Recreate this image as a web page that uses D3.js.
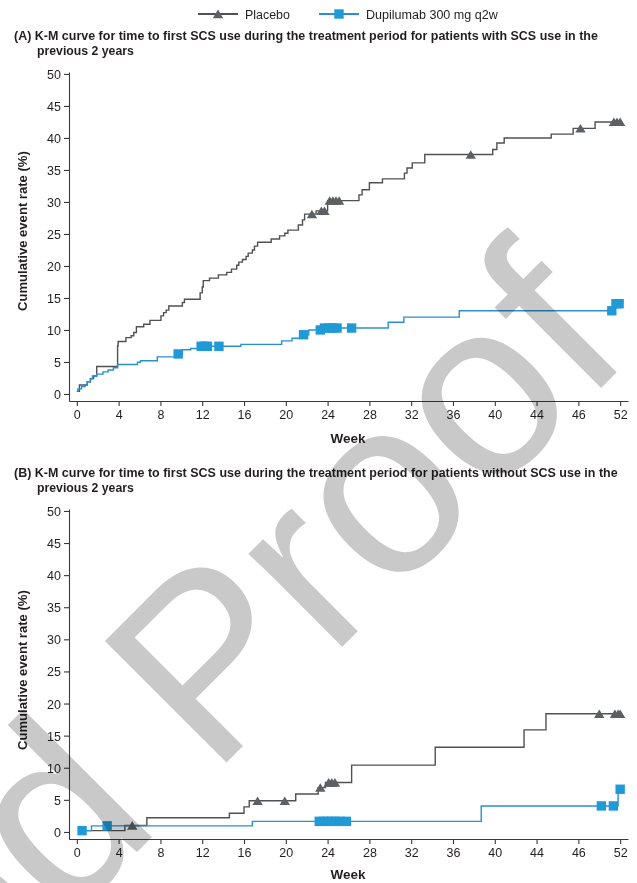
<!DOCTYPE html>
<html>
<head>
<meta charset="utf-8">
<script src="https://cdn.jsdelivr.net/npm/d3@7"></script>
<style>
    body { margin: 0; background: #fff; }
    svg text { font-family: "Liberation Sans", Arial, sans-serif; fill: #231f20; }
</style>
</head>
<body>
<svg id="chart" width="637" height="883"></svg>
<script>
//tick labels (the original figure prints "46" at week 48)
var weekTicks = [0, 4, 8, 12, 16, 20, 24, 28, 32, 36, 40, 44, 48, 52];
var weekLabels = ['0', '4', '8', '12', '16', '20', '24', '28', '32', '36', '40', '44', '46', '52'];
var rateTicks = [0, 5, 10, 15, 20, 25, 30, 35, 40, 45, 50];

var arms = ['Placebo', 'Dupilumab 300 mg q2w'];

//(A) patients with SCS use in the previous 2 years: [week, cumulative event rate %]
var placeboA = [[0, 0.4], [0.25, 1.4], [1.0, 1.9], [1.3, 2.4], [1.6, 2.8], [1.9, 4.3],
    [3.9, 7.5], [3.95, 8.2], [4.7, 8.8], [5.2, 9.1], [5.45, 9.6], [5.7, 10.5],
    [6.4, 10.9], [7.0, 11.5], [8.05, 12.2], [8.3, 12.7], [8.55, 13.1], [8.8, 13.75],
    [10.1, 14.3], [10.3, 14.8], [11.8, 15.8], [12.0, 16.7], [12.1, 17.7], [12.7, 18.1],
    [13.55, 18.6], [14.35, 19.0], [14.8, 19.5], [15.3, 20.1], [15.5, 20.6], [15.85, 21.0],
    [16.2, 21.5], [16.4, 22.0], [16.8, 22.5], [17.0, 23.1], [17.3, 23.7], [18.6, 24.2],
    [19.4, 24.7], [19.9, 25.1], [20.2, 25.6], [21.2, 26.4], [21.6, 27.2], [21.8, 28.1],
    [22.9, 28.6], [24.0, 30.2], [27.0, 31.1], [27.3, 31.9], [28.0, 33.0], [29.25, 33.6],
    [31.35, 34.5], [31.6, 35.3], [32.1, 36.1], [33.3, 37.4], [39.8, 38.2], [40.2, 39.2],
    [40.9, 40.0], [45.4, 40.6], [47.5, 41.5], [49.6, 42.5], [52.0, 42.5]];
var placeboCensorA = [22.5, 23.4, 23.7, 24.2, 24.5, 24.8, 25.1, 37.7, 48.2, 51.4, 51.7, 52.0];

var dupiA = [[0, 0.4], [0.1, 0.8], [0.45, 1.15], [0.8, 1.4], [1.0, 1.9], [1.3, 2.35],
    [1.5, 2.8], [1.9, 3.1], [2.5, 3.45], [3.0, 3.75], [3.5, 4.1], [3.9, 4.6],
    [5.8, 4.95], [6.1, 5.2], [7.7, 5.8], [9.5, 6.25], [10.1, 6.9], [10.9, 7.1],
    [11.7, 7.45], [15.7, 7.75], [19.6, 8.3], [20.6, 8.7], [21.4, 9.25], [22.2, 10.0],
    [23.6, 10.3], [29.8, 11.2], [31.3, 12.0], [36.6, 13.0], [51.3, 14.1], [52.0, 14.1]];
var dupiCensorA = [9.7, 11.9, 12.2, 12.5, 13.6, 21.7, 23.3, 23.7, 24.1, 24.5, 24.9, 26.3,
    51.2, 51.6, 51.9];

//(B) patients without SCS use in the previous 2 years
var placeboB = [[0.5, 0.2], [4.6, 1.0], [6.7, 2.2], [14.6, 2.9], [16.0, 3.9], [16.5, 4.85],
    [20.95, 5.9], [23.1, 6.9], [23.8, 7.7], [26.3, 10.4], [34.3, 13.2], [42.8, 15.9],
    [44.9, 18.4], [52.0, 18.4]];
var placeboCensorB = [5.3, 17.3, 19.9, 23.3, 24.1, 24.4, 24.7, 50.0, 51.5, 51.8, 52.0];

var dupiB = [[0.5, 0.2], [1.4, 0.95], [16.8, 1.65], [38.7, 4.05], [51.8, 6.65], [52.0, 6.65]];
var dupiCensorB = [0.5, 2.9, 23.2, 23.6, 24.0, 24.4, 24.8, 25.2, 25.8, 50.2, 51.35, 52.0];

var titlesA = ['(A) K-M curve for time to first SCS use during the treatment period for patients with SCS use in the',
    'previous 2 years'];
var titlesB = ['(B) K-M curve for time to first SCS use during the treatment period for patients without SCS use in the',
    'previous 2 years'];

var C = {
    placebo: '#4f5154',
    placeboMark: '#5d6063',
    dupi: '#2a90cd',
    dupiMark: '#1f9ad7',
    axis: '#3a3a3a'
};

var svg = d3.select('#chart');
svg.append('rect').attr('width', 637).attr('height', 883).attr('fill', '#fff');

var x = d3.scaleLinear().domain([-0.75, 52.75]).range([69, 628]);

//value of a step curve at week t
function stepAt(series, t) {
    var i = d3.bisectRight(series.map(function (d) { return d[0]; }), t) - 1;
    return series[Math.max(0, i)][1];
}

//the figure uses a condensed face: squeeze a text to a given width
function narrowText(g, str, x0, y0, width, size, bold) {
    var t = g.append('text').attr('x', 0).attr('y', 0)
        .attr('font-size', size)
        .attr('font-weight', bold ? 'bold' : null)
        .text(str);
    var w = t.node().getComputedTextLength();
    t.attr('transform', 'translate(' + x0 + ',' + y0 + ') scale(' + (width / w) + ',1)');
    return t;
}

function trianglePath(s) {
    return 'M' + (-s) + ',' + (s * 0.8) + ' L' + s + ',' + (s * 0.8) + ' L0,' + (-s * 0.85) + ' Z';
}

function drawMarks(g, pts, kind) {
    if (kind === 'tri') {
        g.selectAll(null).data(pts).enter().append('path')
            .attr('d', trianglePath(5.2))
            .attr('transform', function (d) { return 'translate(' + d[0] + ',' + d[1] + ')'; })
            .attr('fill', C.placeboMark);
    } else {
        g.selectAll(null).data(pts).enter().append('rect')
            .attr('x', function (d) { return d[0] - 4.7; })
            .attr('y', function (d) { return d[1] - 4.7; })
            .attr('width', 9.4).attr('height', 9.4)
            .attr('fill', C.dupiMark);
    }
}

function drawPanel(p) {
    var y = d3.scaleLinear().domain([-1.1, 50.3]).range([p.bottom, p.top]);
    var g = svg.append('g');

    //title, 2 lines
    narrowText(g, p.titles[0], 14, p.titleY, p.titleLen, 13.5, true);
    narrowText(g, p.titles[1], 37, p.titleY + 15.5, 97, 13.5, true);

    var yAxis = g.append('g').attr('transform', 'translate(69,0)')
        .call(d3.axisLeft(y).tickValues(rateTicks).tickSize(5).tickSizeOuter(0).tickPadding(3));
    var xAxis = g.append('g').attr('transform', 'translate(0,' + p.bottom + ')')
        .call(d3.axisBottom(x).tickValues(weekTicks).tickSize(5).tickSizeOuter(0).tickPadding(4)
            .tickFormat(function (d, i) { return weekLabels[i]; }));
    [yAxis, xAxis].forEach(function (a) {
        a.attr('font-family', null).attr('font-size', null);
        a.selectAll('path, line').attr('stroke', C.axis).attr('stroke-width', 1.1);
        a.selectAll('text').attr('font-size', 12.5).attr('fill', '#231f20');
    });
    yAxis.selectAll('text').attr('dy', '0.36em');

    g.append('text').attr('x', 348).attr('y', p.weekY)
        .attr('text-anchor', 'middle').attr('font-size', 13.5).attr('font-weight', 'bold')
        .text('Week');

    var lab = g.append('g').attr('transform', 'translate(27,' + (p.labelY + 80) + ') rotate(-90)');
    narrowText(lab, 'Cumulative event rate (%)', 0, 0, 160, 12.5, true);

    var line = d3.line()
        .x(function (d) { return x(d[0]); })
        .y(function (d) { return y(d[1]); })
        .curve(d3.curveStepAfter);

    g.append('path').datum(p.placebo).attr('d', line)
        .attr('fill', 'none').attr('stroke', C.placebo).attr('stroke-width', 1.4);
    g.append('path').datum(p.dupi).attr('d', line)
        .attr('fill', 'none').attr('stroke', C.dupi).attr('stroke-width', 1.4);

    drawMarks(g, p.placeboCensor.map(function (t) {
        return [x(t), y(stepAt(p.placebo, t))];
    }), 'tri');
    drawMarks(g, p.dupiCensor.map(function (t) {
        return [x(t), y(stepAt(p.dupi, t))];
    }), 'sq');
}

//legend
var legend = svg.append('g').attr('transform', 'translate(0,14)');
[{ x: 198, c: C.placebo, m: 'tri' }, { x: 319, c: C.dupi, m: 'sq' }].forEach(function (l, i) {
    legend.append('line').attr('x1', l.x).attr('x2', l.x + 40).attr('y1', 0).attr('y2', 0)
        .attr('stroke', l.c).attr('stroke-width', 2);
    drawMarks(legend, [[l.x + 20, 0]], l.m);
    narrowText(legend, arms[i], l.x + 47, 4.5, i === 0 ? 45 : 132, 13.5, false);
});

drawPanel({
    top: 72, bottom: 401, titleY: 39.5, titleLen: 584, labelY: 231, weekY: 443, titles: titlesA,
    placebo: placeboA, dupi: dupiA, placeboCensor: placeboCensorA, dupiCensor: dupiCensorA
});
drawPanel({
    top: 509, bottom: 839, titleY: 476.5, titleLen: 604, labelY: 670, weekY: 879, titles: titlesB,
    placebo: placeboB, dupi: dupiB, placeboCensor: placeboCensorB, dupiCensor: dupiCensorB
});

//"proof" watermark across the page
var wm = svg.append('g')
    .attr('transform', 'translate(212,777) rotate(-45)')
    .style('mix-blend-mode', 'multiply');
wm.append('text').attr('x', 0).attr('y', 0)
    .attr('font-size', 250).style('fill', '#c9c9c9')
    .text('Proof');
wm.append('text').attr('x', -69).attr('y', 0)
    .attr('text-anchor', 'end')
    .attr('font-size', 250).style('fill', '#c9c9c9')
    .text('Uncorrected');
</script>
</body>
</html>
